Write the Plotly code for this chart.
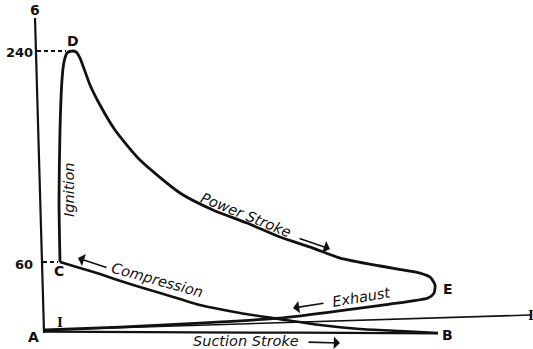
import plotly.graph_objects as go

# Indicator diagram of a four-stroke gas engine.
# Volume in arbitrary stroke units, pressure in lb per sq in (gauge).

# Ignition (C -> D), power stroke (D -> E) and exhaust (E -> A)
cycle_vol = [15, 14, 15, 17, 19, 22, 27, 31, 35, 45, 55, 70, 95, 135, 168, 202,
             235, 268, 295, 335, 375, 385, 390, 389, 383, 345, 315, 285, 235,
             155, 75, 0]
cycle_pres = [60, 112.9, 172.6, 215.3, 230.6, 238.3, 240, 239.2, 234.0, 211.0,
              193.9, 172.6, 147.0, 118.9, 104.4, 93.3, 81.3, 71.9, 63.4, 56.6,
              50.6, 47.2, 40.4, 33.5, 29.3, 24.1, 20.7, 17.3, 12.2, 7.9, 4.5, 2.0]

# Compression (B -> C)
comp_vol = [393, 355, 315, 275, 235, 195, 155, 135, 115, 85, 55, 35, 15]
comp_pres = [-0.6, 1.1, 2.8, 6.2, 11.3, 16.5, 23.3, 28.4, 33.5, 41.2, 49.7, 54.9, 60]

# Suction stroke (A -> B)
suction_vol = [0, 150, 255, 393]
suction_pres = [0.7, 0.0, -0.3, -0.8]

# Atmospheric line I - I
atmos_vol = [0, 485]
atmos_pres = [2.0, 14.8]

# Pressure axis
axis_vol = [-10, -1, 0]
axis_pres = [268.2, 0.3, 0.3]

# Reference pressures marked on the axis
ref_levels = [240, 60]
ref_start = [-8, -2]
ref_end = [21, 13]

LINE = "#111111"
fig = go.Figure()

fig.add_trace(go.Scatter(x=axis_vol, y=axis_pres, mode="lines",
                         line=dict(color=LINE, width=2.2)))
fig.add_trace(go.Scatter(x=atmos_vol, y=atmos_pres, mode="lines",
                         line=dict(color=LINE, width=1.6)))
fig.add_trace(go.Scatter(x=suction_vol, y=suction_pres, mode="lines",
                         line=dict(color=LINE, width=2.2, shape="spline")))
fig.add_trace(go.Scatter(x=comp_vol, y=comp_pres, mode="lines",
                         line=dict(color=LINE, width=2.6, shape="spline", smoothing=0.6)))
fig.add_trace(go.Scatter(x=cycle_vol, y=cycle_pres, mode="lines",
                         line=dict(color=LINE, width=2.8, shape="spline", smoothing=0.6)))
for lev, a, b in zip(ref_levels, ref_start, ref_end):
    fig.add_trace(go.Scatter(x=[a, b], y=[lev, lev], mode="lines",
                             line=dict(color=LINE, width=1.8, dash="4px,3px")))

BOLD = dict(family="DejaVu Sans", size=14, color=LINE, weight="bold")
HAND = dict(family="DejaVu Sans", size=14.5, color=LINE, style="italic")


def label(text, x, y, font=BOLD, angle=0):
    fig.add_annotation(x=x, y=y, text=text, showarrow=False, font=font,
                       textangle=angle, xref="x", yref="y")


def arrow(x0, y0, x1, y1):
    fig.add_annotation(x=x1, y=y1, ax=x0, ay=y0, xref="x", yref="y",
                       axref="x", ayref="y", text="", showarrow=True,
                       arrowhead=1, arrowsize=1.3, arrowwidth=1.6,
                       arrowcolor=LINE)


label("6", -10, 274.9)
label("240", -26, 239, dict(BOLD, size=13))
label("60", -21, 58.3, dict(BOLD, size=13))
label("A", -12, -4)
label("I", 15, 8.8, dict(family="Liberation Serif", size=15, color=LINE, weight="bold"))
label("I", 486, 14.8, dict(family="Liberation Serif", size=15, color=LINE, weight="bold"))
label("B", 402, -2.3)
label("C", 14, 52.3)
label("D", 28, 248.5)
label("E", 403, 36.9)

label("Ignition", 24, 121.4, HAND, -90)
label("Power Stroke", 201, 100.1, HAND, 22)
label("Compression", 112, 44.6, HAND, 15.5)
label("Exhaust", 317, 30.1, HAND, -9.5)
label("Suction Stroke", 201, -7.4, HAND, 0)

arrow(253, 80.5, 285, 71.1)
arrow(63, 54.9, 33, 63.4)
arrow(280, 25.0, 248, 20.7)
arrow(262, -8.3, 295, -9.1)

fig.update_layout(
    width=533, height=349,
    margin=dict(l=0, r=0, t=0, b=0),
    paper_bgcolor="white", plot_bgcolor="white",
    showlegend=False,
    xaxis=dict(range=[-45, 488], visible=False, fixedrange=True),
    yaxis=dict(range=[-14.2, 283.5], visible=False, fixedrange=True),
)

fig.write_html("out.html")
